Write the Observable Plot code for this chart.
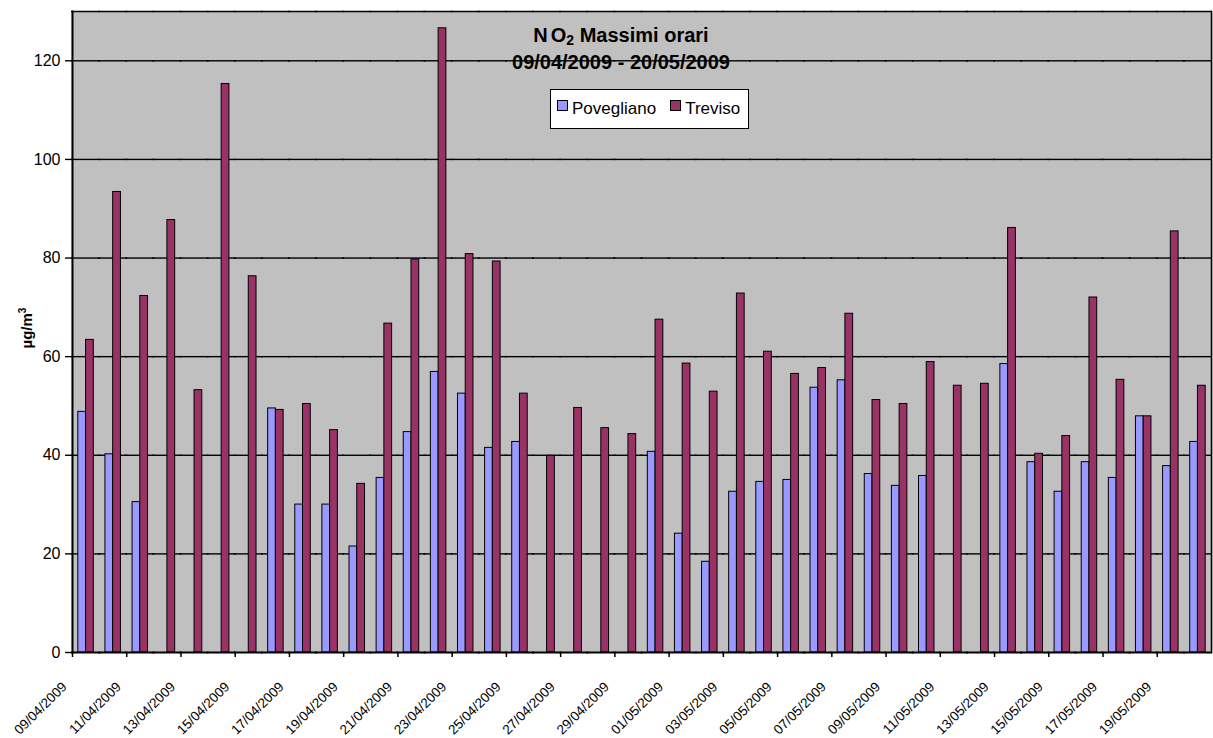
<!DOCTYPE html>
<html>
<head>
<meta charset="utf-8">
<script src="https://cdn.jsdelivr.net/npm/d3@7"></script>
<script src="https://cdn.jsdelivr.net/npm/@observablehq/plot@0.6"></script>
<style>
  html, body { margin: 0; padding: 0; background: #fff; }
  #wrap { position: relative; width: 1213px; height: 738px; font-family: Arial, "Liberation Sans", sans-serif; color: #000; }
  #chart { position: absolute; left: 0; top: 0; }
  #chart svg g[aria-label="fx-axis tick label"] text { letter-spacing: -0.7px; }
  #title { position: absolute; left: 421px; width: 400px; top: 22px; text-align: center; font-weight: bold; font-size: 20px; line-height: 27px; }
  #title sub { font-size: 14px; vertical-align: -3px; line-height: 0; }
  #legend { position: absolute; left: 550px; top: 89px; width: 191px; height: 38px; background: #fff; border: 1.5px solid #000; font-size: 17px; display: flex; align-items: center; padding-left: 6px; box-sizing: content-box; }
  #legend .sw { display: inline-block; width: 9px; height: 9px; border: 1px solid #000; margin-right: 4px; position: relative; top: -3px; }
  #legend .it { margin-right: 14px; white-space: nowrap; }
  #ylabel { position: absolute; left: 26px; top: 328px; transform: translate(-50%, -50%) rotate(-90deg); font-weight: bold; font-size: 15px; white-space: nowrap; }
  #ylabel sup { font-size: 10px; vertical-align: 6px; line-height: 0; }
</style>
</head>
<body>
<div id="wrap">
  <div id="chart"></div>
  <div id="title"><span style="letter-spacing:3px">N</span>O<sub>2</sub> Massimi orari<br>09/04/2009 - 20/05/2009</div>
  <div id="legend"></div>
  <div id="ylabel">µg/m<sup>3</sup></div>
</div>
<script>
const dates = [
  "09/04/2009","10/04/2009","11/04/2009","12/04/2009","13/04/2009","14/04/2009","15/04/2009",
  "16/04/2009","17/04/2009","18/04/2009","19/04/2009","20/04/2009","21/04/2009","22/04/2009",
  "23/04/2009","24/04/2009","25/04/2009","26/04/2009","27/04/2009","28/04/2009","29/04/2009",
  "30/04/2009","01/05/2009","02/05/2009","03/05/2009","04/05/2009","05/05/2009","06/05/2009",
  "07/05/2009","08/05/2009","09/05/2009","10/05/2009","11/05/2009","12/05/2009","13/05/2009",
  "14/05/2009","15/05/2009","16/05/2009","17/05/2009","18/05/2009","19/05/2009","20/05/2009"
];
const povegliano = [
  48.8, 40.2, 30.5, null, null, null, null,
  49.5, 30.0, 30.0, 21.5, 35.4, 44.7, 56.9,
  52.5, 41.5, 42.7, null, null, null, null,
  40.7, 24.1, 18.4, 32.6, 34.6, 35.0, 53.7,
  55.2, 36.2, 33.8, 35.8, null, null, 58.5,
  38.6, 32.6, 38.6, 35.4, 47.9, 37.8, 42.7
];
const treviso = [
  63.4, 93.4, 72.3, 87.7, 53.2, 115.3, 76.3,
  49.2, 50.4, 45.1, 34.2, 66.7, 79.7, 126.6,
  80.8, 79.3, 52.5, 39.9, 49.6, 45.5, 44.3,
  67.5, 58.6, 52.9, 72.8, 61.0, 56.5, 57.7,
  68.7, 51.2, 50.4, 58.9, 54.1, 54.5, 86.1,
  40.3, 43.9, 72.0, 55.3, 47.9, 85.4, 54.1
];
const seriesNames = ["Povegliano", "Treviso"];
const seriesColors = ["#9999FF", "#993366"];
const yTicks = [0, 20, 40, 60, 80, 100, 120];
const xTickLabels = dates.filter((d, i) => i % 2 === 0);

const rows = [];
dates.forEach((d, i) => {
  if (povegliano[i] != null) rows.push({date: d, series: "Povegliano", value: povegliano[i]});
  if (treviso[i] != null) rows.push({date: d, series: "Treviso", value: treviso[i]});
});

const W = 1213, H = 738, mL = 72, mR = 2, mT = 11, mB = 86;
const band = (W - mL - mR) / dates.length;

const chart = Plot.plot({
  width: W, height: H,
  marginLeft: mL, marginRight: mR, marginTop: mT, marginBottom: mB,
  style: {fontFamily: "Arial, 'Liberation Sans', sans-serif", color: "#000", background: "transparent", overflow: "visible"},
  fx: {domain: dates, padding: 0, round: false, label: null, axis: null},
  x: {domain: seriesNames, paddingInner: 0, paddingOuter: 0.75, round: false, axis: null},
  y: {domain: [0, 130], label: null},
  color: {domain: seriesNames, range: seriesColors},
  marks: [
    Plot.frame({fill: "#C0C0C0", stroke: null, insetLeft: -1, insetRight: -1}),
    Plot.ruleY(yTicks.filter(v => v > 0), {stroke: "#000", strokeWidth: 1.4, insetLeft: -1, insetRight: -1}),
    Plot.barY(rows, {fx: "date", x: "series", y: "value", fill: "series", stroke: "#000", strokeWidth: 1}),
    Plot.ruleY([0], {stroke: "#000", strokeWidth: 2, insetLeft: -1, insetRight: -1}),
    Plot.ruleY([130], {stroke: "#000", strokeWidth: 1.5, insetLeft: -1, insetRight: -1}),
    Plot.frame({anchor: "left", facetAnchor: "left", stroke: "#000", strokeWidth: 2}),
    Plot.frame({anchor: "right", facetAnchor: "right", stroke: "#000", strokeWidth: 1.5}),
    Plot.axisY({ticks: yTicks, tickSize: 7, tickPadding: 5, label: null, fontSize: 16, stroke: "#000", strokeWidth: 1.4}),
    Plot.axisFx({anchor: "bottom", ticks: xTickLabels, tickSize: 5, tickFormat: () => "", dx: -band / 2, label: null, stroke: "#000", strokeWidth: 1.5}),
    Plot.axisFx({anchor: "bottom", ticks: xTickLabels, tickSize: 0, tickPadding: 32, tickRotate: -45, dx: -band / 2 - 8, label: null, fontSize: 13.5, ariaLabel: "fx-axis tick label"})
  ]
});
document.getElementById("chart").appendChild(chart);

const legend = document.getElementById("legend");
seriesNames.forEach((name, i) => {
  const it = document.createElement("span");
  it.className = "it";
  const sw = document.createElement("span");
  sw.className = "sw";
  sw.style.background = seriesColors[i];
  it.appendChild(sw);
  it.appendChild(document.createTextNode(name));
  legend.appendChild(it);
});
</script>
</body>
</html>
